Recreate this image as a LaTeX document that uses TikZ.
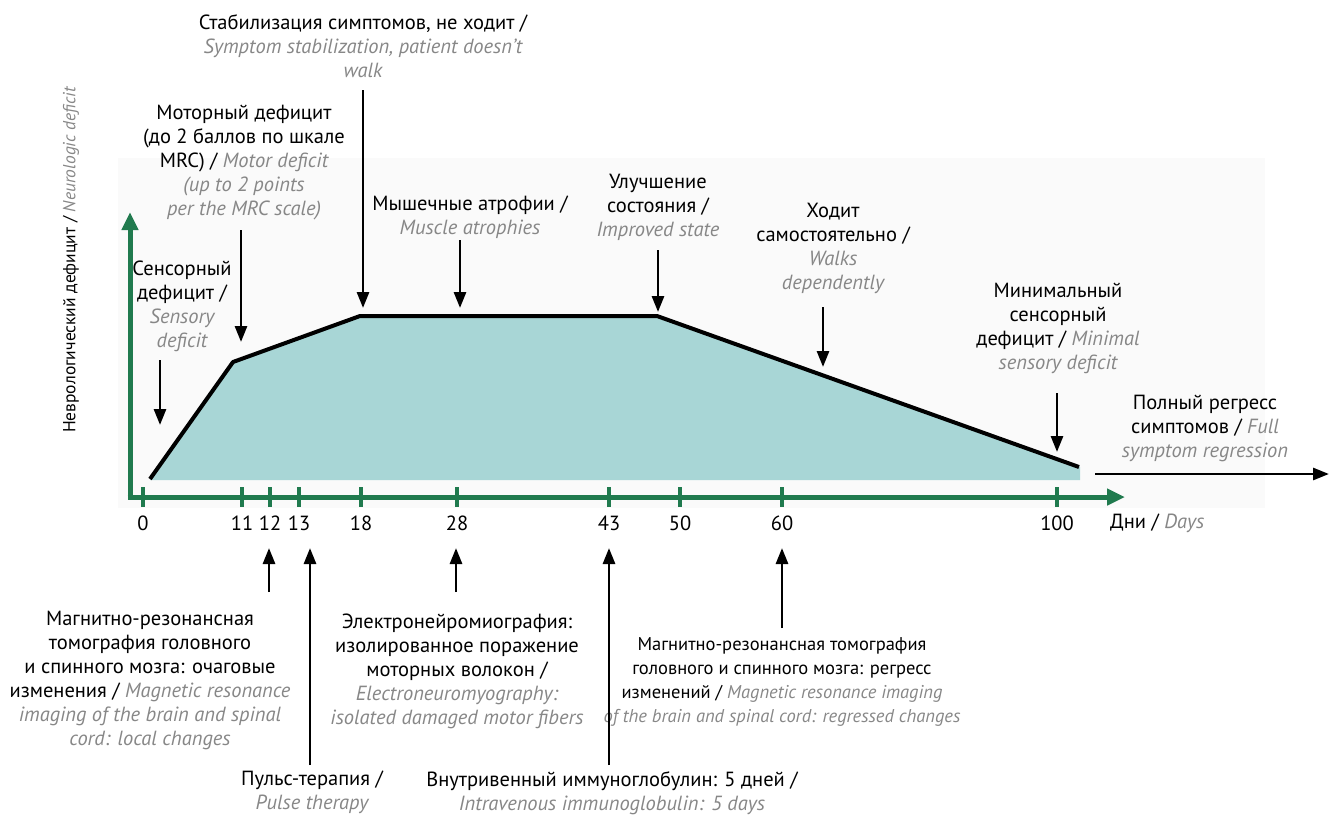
\documentclass[tikz,border=0pt]{standalone}
\usepackage{fontspec}
\setmainfont{PT Sans}
\usetikzlibrary{arrows.meta}
\definecolor{axgreen}{RGB}{32,122,78}
\definecolor{fillteal}{RGB}{168,214,214}
\definecolor{engray}{RGB}{135,135,135}
\newcommand{\en}[1]{{\itshape\color{engray}#1}}
\begin{document}
\begin{tikzpicture}[x=1pt,y=-1pt,
  lbl/.style={align=center,inner sep=0pt,font=\fontsize{20.5}{24}\selectfont},
  ptr/.style={line width=2.8pt,-{Triangle[length=16pt,width=12pt]}},
  ax/.style={line width=5pt,axgreen,-{Triangle[length=18pt,width=16pt]}},
  tk/.style={line width=4pt,axgreen},
  num/.style={inner sep=0pt,font=\fontsize{20.5}{24}\selectfont}]
\useasboundingbox (0,0) rectangle (1331,815);
% faint background panel
\fill[black!2] (118,158) rectangle (1265,508);
% area
\fill[fillteal] (150,479) -- (233,362) -- (360,316) -- (657,316) -- (1080,467) -- (1080,480) -- (150,480) -- cycle;
\draw[line width=4pt,line join=round] (150,479) -- (233,362) -- (360,316) -- (657,316) -- (1079,467);
% axes
\coordinate (O) at (130,497);
\coordinate (xend) at (1125,497);
\coordinate (yend) at (130,212);
\draw[ax] (127.5,497) -- (xend);
\draw[ax] (130,499.5) -- (yend);
\foreach \x/\t in {143/0,242/11,270/12,299/13,361/18,457/28,609/43,680/50,782/60,1057/100}{
  \draw[tk] (\x,487) -- (\x,507);
  \node[num] (t\t) at (\x,523) {\t};
}
\node[num,anchor=west] (days) at (1110,523) {Дни / \en{Days}};
\node[lbl,rotate=90,font=\fontsize{17.5}{21}\selectfont] (ylab) at (71,260) {Неврологический дефицит / \en{Neurologic deficit}};
% upper labels
\node[lbl] (stab) at (363,46) {Стабилизация симптомов, не ходит /\\\en{Symptom stabilization, patient doesn’t}\\\en{walk}};
\node[lbl] (motor) at (244,163) {Моторный дефицит\\(до 2 баллов по шкале\\MRC) / \en{Motor deficit}\\\en{(up to 2 points}\\\en{per the MRC scale)}};
\node[lbl] (sens) at (182,306) {Сенсорный\\дефицит /\\\en{Sensory}\\\en{deficit}};
\node[lbl] (musc) at (470,217) {Мышечные атрофии /\\\en{Muscle atrophies}};
\node[lbl] (impr) at (658,207) {Улучшение\\состояния /\\\en{Improved state}};
\node[lbl] (walk) at (833,248) {Ходит\\самостоятельно /\\\en{Walks}\\\en{dependently}};
\node[lbl] (mins) at (1058,328) {Минимальный\\сенсорный\\дефицит / \en{Minimal}\\\en{sensory deficit}};
\node[lbl] (full) at (1205,428) {Полный регресс\\симптомов / \en{Full}\\\en{symptom regression}};
% lower labels
\node[lbl] (mri1) at (150,680) {Магнитно-резонансная\\томография головного\\и спинного мозга: очаговые\\изменения / \en{Magnetic resonance}\\\en{imaging of the brain and spinal}\\\en{cord: local changes}};
\node[lbl] (pulse) at (312,792) {Пульс-терапия /\\\en{Pulse therapy}};
\node[lbl] (enmg) at (457,671) {Электронейромиография:\\изолированное поражение\\моторных волокон /\\\en{Electroneuromyography:}\\\en{isolated damaged motor fibers}};
\node[lbl] (ivig) at (612,793) {Внутривенный иммуноглобулин: 5 дней /\\\en{Intravenous immunoglobulin: 5 days}};
\node[lbl,font=\fontsize{18.5}{24}\selectfont] (mri2) at (782,682) {Магнитно-резонансная томография\\головного и спинного мозга: регресс\\изменений / \en{Magnetic resonance imaging}\\\en{of the brain and spinal cord: regressed changes}};
% arrow end points
\coordinate (a1s) at (160,360);  \coordinate (a1e) at (160,425);
\coordinate (a2s) at (241,230);  \coordinate (a2e) at (241,342);
\coordinate (a3s) at (363,90);   \coordinate (a3e) at (363,308);
\coordinate (a4s) at (460,240);  \coordinate (a4e) at (460,308);
\coordinate (a5s) at (658,250);  \coordinate (a5e) at (658,312);
\coordinate (a6s) at (823,307);  \coordinate (a6e) at (823,367);
\coordinate (a7s) at (1057,393); \coordinate (a7e) at (1057,452);
\coordinate (a8s) at (1095,474); \coordinate (a8e) at (1329,474);
\coordinate (b1s) at (269,592);  \coordinate (b1e) at (269,548);
\coordinate (b2s) at (310,765);  \coordinate (b2e) at (310,548);
\coordinate (b3s) at (456,592);  \coordinate (b3e) at (456,548);
\coordinate (b4s) at (609,765);  \coordinate (b4e) at (609,548);
\coordinate (b5s) at (782,628);  \coordinate (b5e) at (782,548);
\foreach \a in {a1,a2,a3,a4,a5,a6,a7,a8,b1,b2,b3,b4,b5}{
  \draw[ptr] (\a s) -- (\a e);
}
\end{tikzpicture}
\end{document}
